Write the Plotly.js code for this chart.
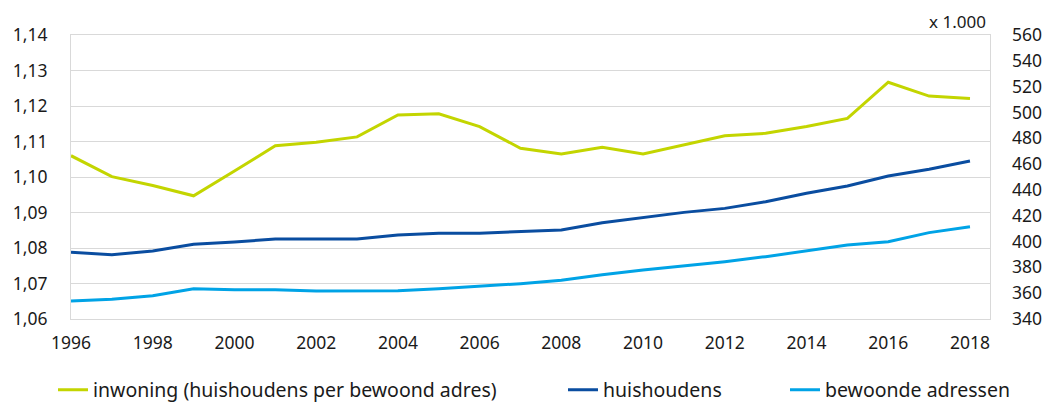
<!DOCTYPE html>
<html>
<head>
<meta charset="utf-8">
<script src="https://cdn.plot.ly/plotly-3.0.1.min.js"></script>
<style>
  html, body { margin: 0; padding: 0; background: #fff; }
  #chart { width: 1051px; height: 403px; }
</style>
</head>
<body>
<div id="chart"></div>
<script>
// Jaren 1996-2018
const years = [1996, 1997, 1998, 1999, 2000, 2001, 2002, 2003, 2004, 2005, 2006, 2007,
               2008, 2009, 2010, 2011, 2012, 2013, 2014, 2015, 2016, 2017, 2018];

// Inwoning: huishoudens per bewoond adres (linkeras)
const inwoning = [1.1060, 1.1001, 1.0976, 1.0947, 1.1017, 1.1088, 1.1098, 1.1113, 1.1175, 1.1178,
                  1.1142, 1.1081, 1.1065, 1.1084, 1.1065, 1.1090, 1.1116, 1.1123, 1.1142, 1.1165,
                  1.1267, 1.1228, 1.1221];

// Aantallen x 1.000 (rechteras)
const huishoudens = [391.7, 389.8, 392.7, 397.9, 399.6, 402.0, 402.0, 402.0, 405.1, 406.4,
                     406.4, 407.6, 409.0, 414.6, 418.5, 422.6, 425.7, 430.9, 437.4, 443.0,
                     450.8, 456.0, 462.4];
const bewoondeAdressen = [354.0, 355.3, 358.0, 363.5, 362.7, 362.7, 361.7, 361.7, 361.9, 363.5,
                          365.3, 367.4, 370.0, 374.3, 378.0, 381.3, 384.4, 388.3, 392.9, 397.3,
                          399.9, 406.9, 411.5];

const xTicks = [1996, 1998, 2000, 2002, 2004, 2006, 2008, 2010, 2012, 2014, 2016, 2018];

const FONT = 'Noto Sans, Open Sans, sans-serif';
const TEXT = '#1a1a1a';
const GRID = '#d9d9d9';

const traces = [
  { x: years, y: inwoning, name: 'inwoning (huishoudens per bewoond adres)', type: 'scatter', mode: 'lines',
    line: { color: '#c3d500', width: 3 }, yaxis: 'y', legend: 'legend' },
  { x: years, y: huishoudens, name: 'huishoudens', type: 'scatter', mode: 'lines',
    line: { color: '#0a4da0', width: 3 }, yaxis: 'y2', legend: 'legend2' },
  { x: years, y: bewoondeAdressen, name: 'bewoonde adressen', type: 'scatter', mode: 'lines',
    line: { color: '#00a3e6', width: 3 }, yaxis: 'y2', legend: 'legend3' }
];

const legendBase = {
  orientation: 'h', xref: 'container', yref: 'container', yanchor: 'middle', y: 1 - 390 / 403,
  xanchor: 'left', bgcolor: 'rgba(0,0,0,0)', borderwidth: 0,
  font: { family: FONT, size: 19.5, color: TEXT }
};

const layout = {
  width: 1051, height: 403,
  margin: { l: 71, r: 61, t: 35, b: 84 },
  paper_bgcolor: '#ffffff', plot_bgcolor: '#ffffff',
  separators: ',.',
  font: { family: FONT, size: 17, color: TEXT },
  showlegend: true,
  hovermode: false,
  xaxis: {
    type: 'linear', range: [1996, 2018.49], tickvals: xTicks, ticktext: xTicks.map(String),
    showgrid: false, zeroline: false, showline: true, mirror: true, linecolor: GRID, linewidth: 1,
    ticks: '', ticklabelstandoff: 8, tickfont: { family: FONT, size: 17.5, color: TEXT }
  },
  yaxis: {
    range: [1.06, 1.14], dtick: 0.01, tick0: 1.06, tickformat: '.2f',
    showgrid: true, gridcolor: GRID, gridwidth: 1, zeroline: false,
    showline: true, mirror: true, linecolor: GRID, linewidth: 1,
    ticks: '', ticklabelstandoff: 19, tickfont: { family: FONT, size: 17.5, color: TEXT }
  },
  yaxis2: {
    overlaying: 'y', side: 'right', range: [340, 560], dtick: 20, tick0: 340,
    showgrid: false, zeroline: false, showline: false,
    ticks: '', ticklabelstandoff: 21, tickfont: { family: FONT, size: 17.5, color: TEXT }
  },
  legend:  Object.assign({}, legendBase, { x: 53 / 1051 }),
  legend2: Object.assign({}, legendBase, { x: 563 / 1051 }),
  legend3: Object.assign({}, legendBase, { x: 785 / 1051 }),
  annotations: [
    { text: 'x 1.000', xref: 'paper', yref: 'paper', x: 1, y: 1, xanchor: 'right', yanchor: 'bottom',
      xshift: -2, yshift: 0, showarrow: false, font: { family: FONT, size: 17, color: TEXT } }
  ]
};

Plotly.newPlot('chart', traces, layout, { displayModeBar: false, staticPlot: true });
</script>
</body>
</html>
